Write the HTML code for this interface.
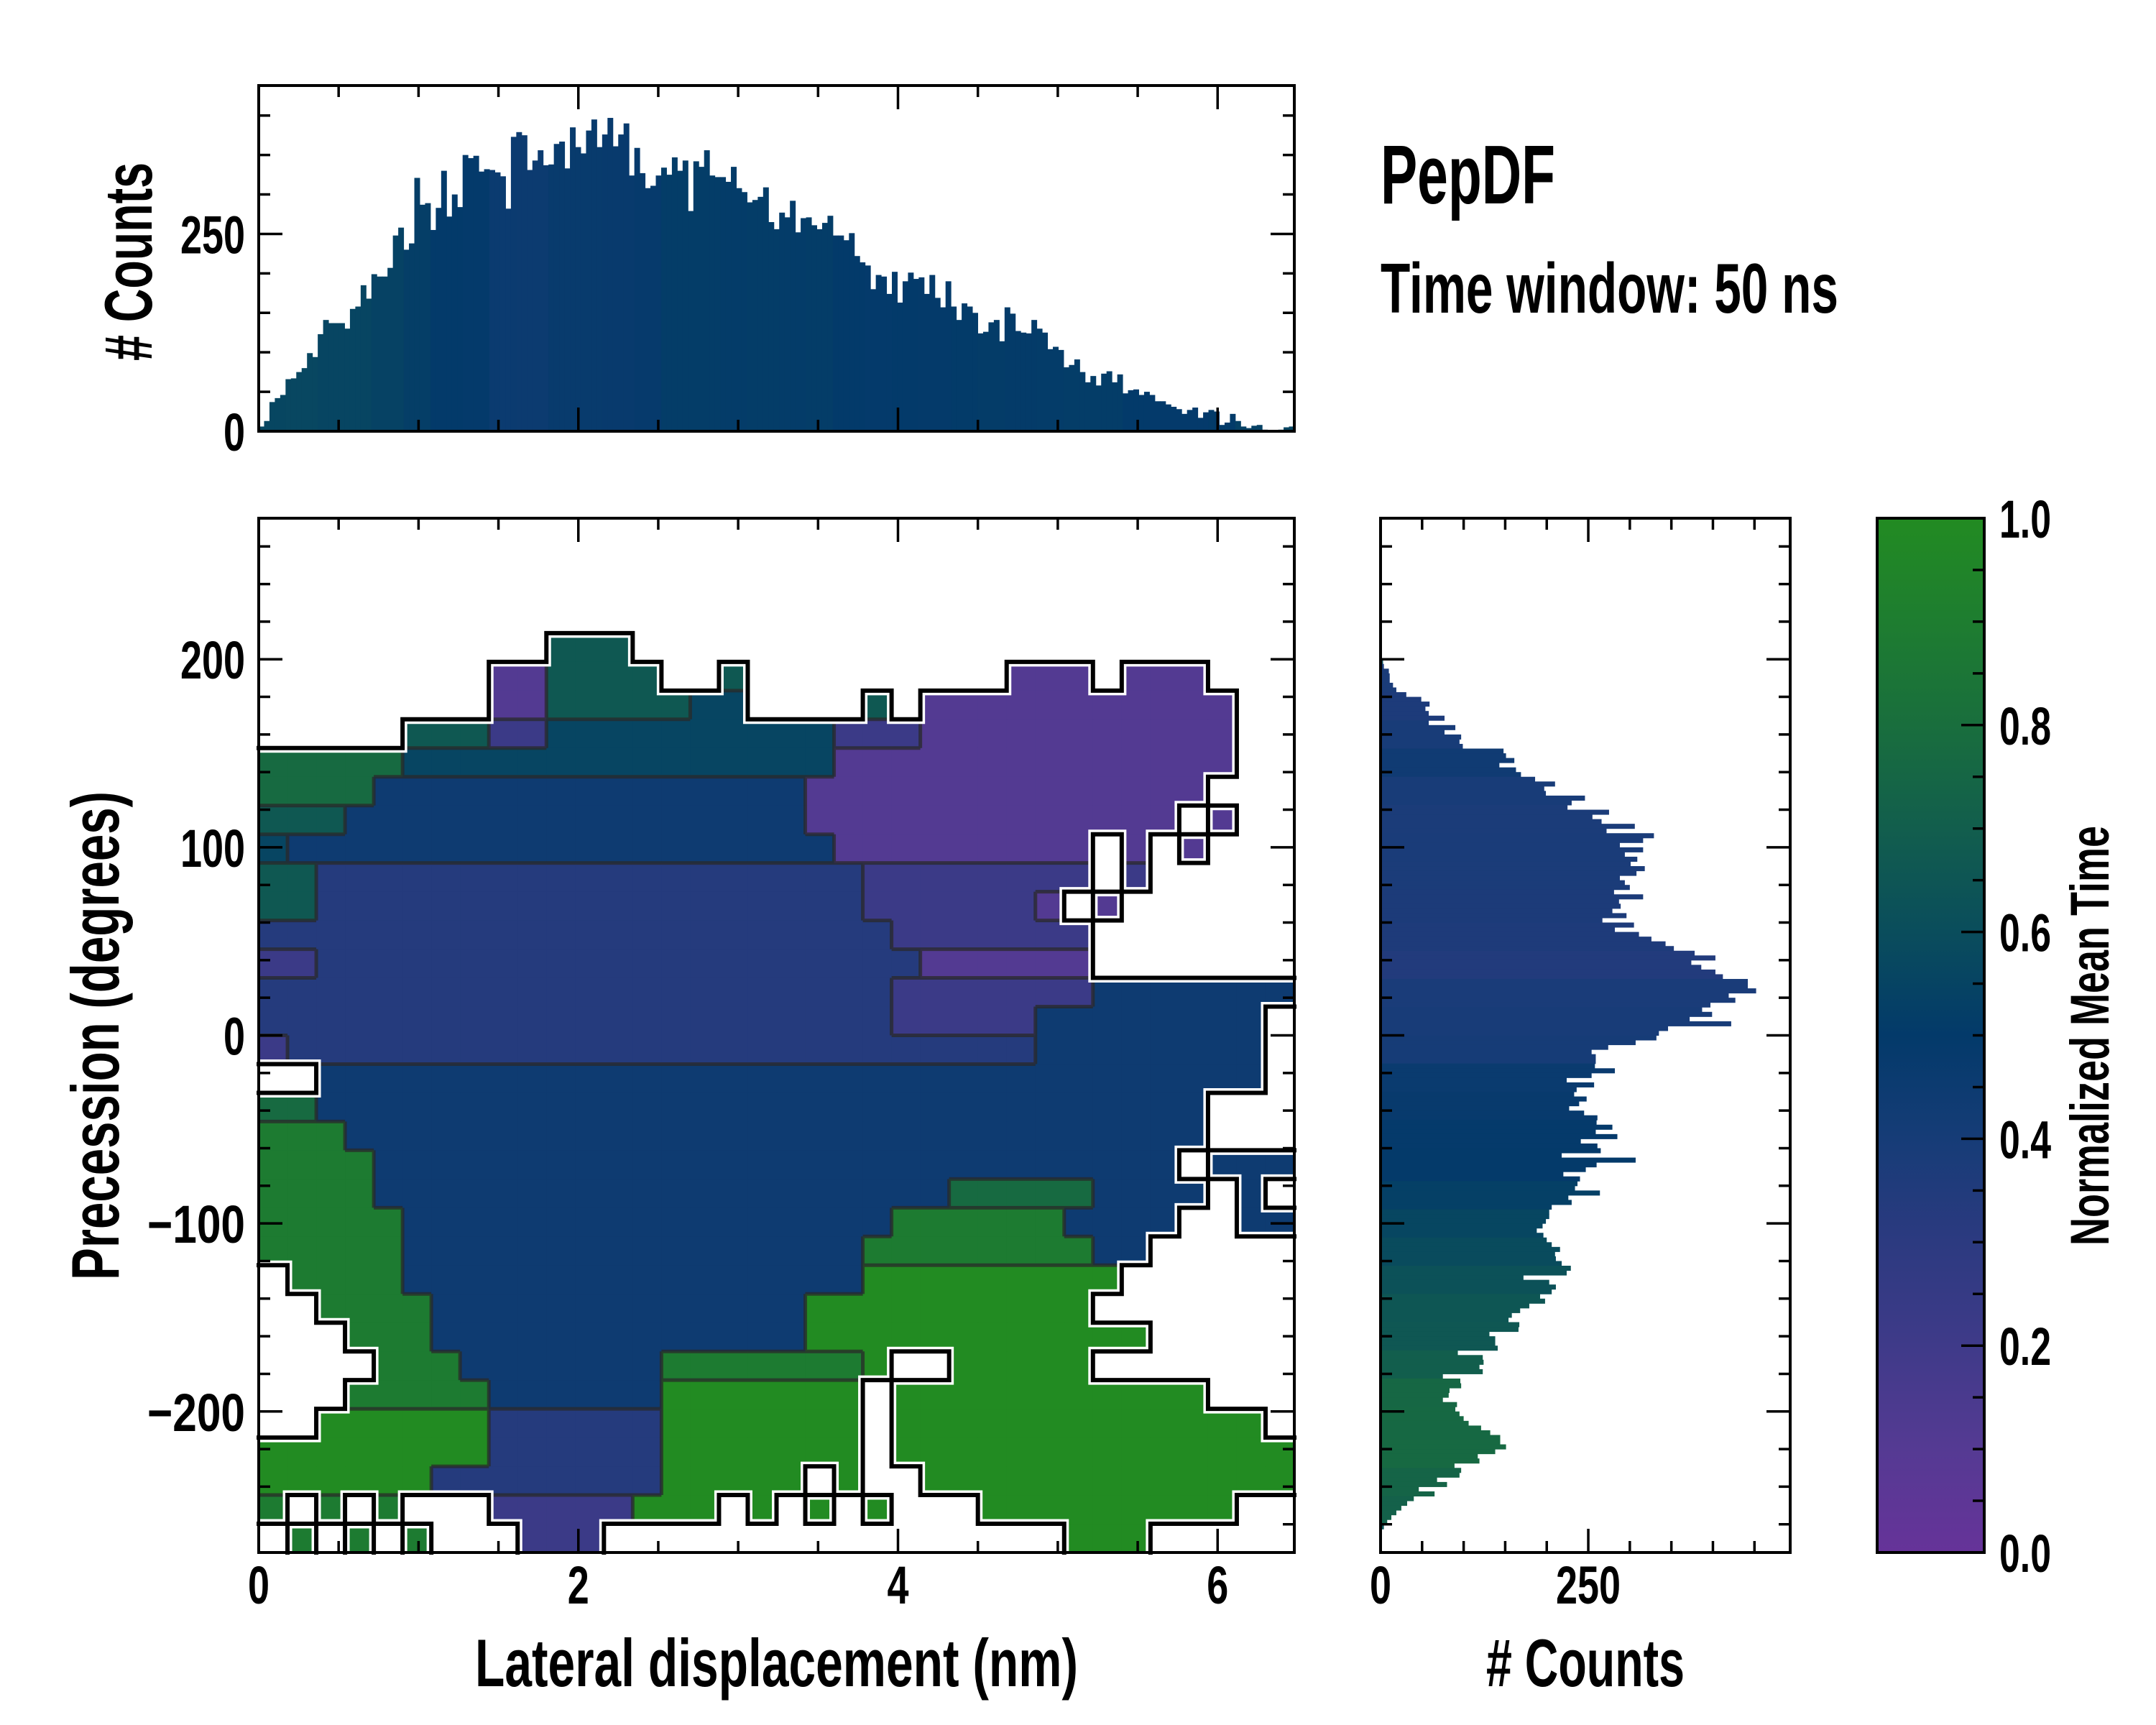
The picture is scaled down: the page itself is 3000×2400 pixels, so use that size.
<!DOCTYPE html>
<html><head><meta charset="utf-8">
<style>
html,body{margin:0;padding:0;background:#fff;}
svg{display:block;}
text{font-family:"Liberation Sans Narrow","Liberation Sans",sans-serif;font-weight:bold;fill:#000;}
</style></head>
<body>
<svg id="fig" xmlns="http://www.w3.org/2000/svg" width="3000" height="2400" viewBox="0 0 3000 2400">
<defs>
<linearGradient id="cbgrad" x1="0" y1="1" x2="0" y2="0"></linearGradient>
</defs>
<rect x="0" y="0" width="3000" height="2400" fill="#fff"/>
<g id="heat"></g>
<g id="contours"></g>
<g id="outline"></g>
<g id="tophist"></g>
<g id="righthist"></g>
<g id="cbar"></g>
<g id="axes"></g>
<g id="labels"></g>
<text x="1921" y="283" font-size="116" textLength="243" lengthAdjust="spacingAndGlyphs">PepDF</text>
<text x="1921" y="435" font-size="98" textLength="637" lengthAdjust="spacingAndGlyphs">Time window: 50 ns</text>
<text x="661" y="2346" font-size="94" textLength="839" lengthAdjust="spacingAndGlyphs">Lateral displacement (nm)</text>
<text x="2068" y="2346" font-size="94" textLength="276" lengthAdjust="spacingAndGlyphs"># Counts</text>
<text transform="translate(165,1781) rotate(-90)" x="0" y="0" font-size="94" textLength="680" lengthAdjust="spacingAndGlyphs">Precession (degrees)</text>
<text transform="translate(211,502) rotate(-90)" x="0" y="0" font-size="94" textLength="276" lengthAdjust="spacingAndGlyphs"># Counts</text>
<text transform="translate(2934,1733) rotate(-90)" x="0" y="0" font-size="76" textLength="584" lengthAdjust="spacingAndGlyphs">Normalized Mean Time</text>
</svg>
<script>
// ---------- data ----------
// heatmap grid rows (top = +275 deg), run-length tokens: <count><char> (last char is the symbol), '.' empty, digit d => normalized mean time d/9
const heatRows = [
"36.","36.","36.","36.",
"10. 36 23.",
"8. 21 46 2. 16 9. 31 1. 31 3.",
"8. 21 56 25 4. 16 1. 111 2.",
"5. 36 22 105 32 111 2.",
"57 155 141 2.",
"47 154 141 3.",
"36 164 131 1. 11 2.",
"15 194 81 11 1. 11 1. 11 3.",
"26 193 72 12 1. 12 5.",
"26 193 62 11 1. 11 6.",
"13 213 72 7.",
"22 213 61 7.",
"13 213 72 74",
"23 203 52 84 1.",
"12 263 84 1.",
"2. 334 1.",
"27 314 3.",
"38 304 3.",
"48 284 1. 34",
"48 204 57 34 14 1. 14 1.",
"58 174 68 44 2. 24",
"58 164 88 24 5.",
"1. 48 164 79 29 6.",
"2. 48 134 99 19 7.",
"3. 38 134 119 19 5.",
"4. 38 74 78 19 2. 59 7.",
"3. 58 64 79 1. 119 3.",
"2. 69 63 79 1. 139 1.",
"89 63 59 29 1. 149",
"69 83 49 19 1. 19 2. 139",
"18 1. 18 1. 18 3. 52 39 1. 19 1. 19 1. 19 3. 99 2.",
"1. 18 1. 18 1. 18 3. 32 16. 39 5."
];
// top histogram counts per bin (0 to 6.48 nm)
const topCounts = [6,13,37,42,46,66,67,75,80,99,94,123,141,137,137,137,130,155,158,185,168,199,196,196,207,248,258,230,238,321,287,289,255,283,330,272,300,284,350,346,349,329,332,331,328,323,282,373,379,375,331,343,356,337,338,364,367,333,385,360,352,381,395,360,376,397,361,376,390,324,359,327,308,
311,324,334,325,347,330,343,279,342,335,356,324,322,322,316,335,308,303,290,293,297,309,265,256,277,271,292,252,270,271,261,256,264,273,248,248,242,251,222,214,210,180,198,196,174,202,163,190,201,193,195,174,198,169,157,190,158,141,162,158,
150,124,126,138,141,114,157,149,127,125,124,141,130,125,104,107,103,81,84,91,75,62,70,58,73,76,62,72,48,52,53,46,50,46,38,38,34,31,28,22,27,30,17,24,27,25,8,11,22,13,6,4,7,8,2,1,1,2,5,6];
// right histogram counts per 2.5-degree bin, starting at +200 going down
const rightCounts = [3,4,10,11,11,15,19,31,49,59,54,58,77,58,90,77,97,95,99,148,151,161,143,163,169,186,210,197,199,246,230,225,275,255,266,306,272,329,316,288,316,294,309,301,318,308,288,294,300,281,316,287,289,279,296,267,305,282,311,326,343,353,378,403,374,386,403,412,442,442,452,419,427,397,387,399,372,422,346,335,332,307,274,254,259,259,258,282,254,224,257,236,233,248,239,227,
245,261,260,279,259,285,241,261,265,218,307,260,247,220,240,237,234,264,226,230,206,203,203,199,195,188,196,200,206,216,210,211,218,229,224,172,203,211,206,192,198,179,168,158,154,167,166,131,138,138,141,93,123,124,119,123,75,96,97,83,82,75,92,90,95,100,106,121,132,144,144,151,138,117,119,89,97,95,68,80,46,65,40,32,25,19,13,8,4,1];
const xTickLabels = [0,2,4,6];
const yTickLabels = [200,100,0,-100,-200];
const topYTickLabels = [0,250];
const rightXTickLabels = [0,250];
const cbarTickLabels = [0.0,0.2,0.4,0.6,0.8,1.0];
const cmapStops = [[0,'#663399'],[0.1,'#553a93'],[0.2,'#3f3a89'],[0.3,'#2c3a80'],[0.4,'#163c77'],[0.5,'#033a6a'],[0.6,'#0a4d5c'],[0.7,'#125e4d'],[0.8,'#196e3d'],[0.9,'#1e7d30'],[1,'#228b22']];

// ---------- layout ----------
const NS='http://www.w3.org/2000/svg';
const MX0=360,MX1=1801,MY0=721,MY1=2160;
const XMAX=6.48,YMIN=-275,YMAX=275;
const TY0=119,TY1=600,TMAX=438;
const RX0=1921,RX1=2491,RMAX=493;
const CX0=2612,CX1=2761;
const xs=v=>MX0+v/XMAX*(MX1-MX0);
const ys=d=>MY0+(YMAX-d)/(YMAX-YMIN)*(MY1-MY0);
const tys=c=>TY1-c/TMAX*(TY1-TY0);
const rxs=c=>RX0+c/RMAX*(RX1-RX0);
const cys=v=>MY1-v*(MY1-MY0);

function hex(h){return [parseInt(h.substr(1,2),16),parseInt(h.substr(3,2),16),parseInt(h.substr(5,2),16)];}
function cmap(v){
  v=Math.max(0,Math.min(1,v));
  for(let i=0;i<cmapStops.length-1;i++){
    const a=cmapStops[i],b=cmapStops[i+1];
    if(v<=b[0]){const t=(v-a[0])/(b[0]-a[0]);const ca=hex(a[1]),cb=hex(b[1]);
      return 'rgb('+ca.map((c,k)=>Math.round(c+(cb[k]-c)*t)).join(',')+')';}
  }
  return cmapStops[cmapStops.length-1][1];
}
function mk(tag,attrs,parent){const e=document.createElementNS(NS,tag);for(const k in attrs)e.setAttribute(k,attrs[k]);parent.appendChild(e);return e;}

// decode grid
const grid=heatRows.map(r=>{let s='';r.trim().split(/\s+/).forEach(t=>{const n=parseInt(t.slice(0,-1));const c=t.slice(-1);s+=c.repeat(n);});return s.padEnd(36,'.').slice(0,36);});
const NC=36,NR=grid.length;
const cw=XMAX/NC,rh=(YMAX-YMIN)/NR;

// heatmap cells
const heat=document.getElementById('heat');
for(let i=0;i<NR;i++)for(let j=0;j<NC;j++){
  const ch=grid[i][j]; if(ch==='.')continue;
  const v=parseInt(ch)/9;
  const x0=xs(j*cw),x1=xs((j+1)*cw),y0=ys(YMAX-i*rh),y1=ys(YMAX-(i+1)*rh);
  const r=mk('rect',{x:x0,y:y0,width:x1-x0+0.6,height:y1-y0+0.6,fill:cmap(v)},heat);
  
  
}
// contour-like lines between cells of differing value
const filled=(i,j)=>i>=0&&i<NR&&j>=0&&j<NC&&grid[i][j]!=='.';
let cpath='';
for(let i=0;i<NR;i++)for(let j=0;j<NC;j++){
  if(!filled(i,j))continue;
  const x0=xs(j*cw),x1=xs((j+1)*cw),y0=ys(YMAX-i*rh),y1=ys(YMAX-(i+1)*rh);
  if(filled(i+1,j)&&grid[i+1][j]!==grid[i][j])cpath+=`M${x0},${y1}H${x1}`;
  if(filled(i,j+1)&&grid[i][j+1]!==grid[i][j])cpath+=`M${x1},${y0}V${y1}`;
}
const cl=mk('path',{d:cpath,stroke:'#2a2a2a','stroke-width':5,fill:'none','stroke-opacity':0.75},document.getElementById('contours'));


// outline edges between filled and empty cells
const outl=document.getElementById('outline');
let dpath='';
for(let i=0;i<NR;i++)for(let j=0;j<NC;j++){
  if(!filled(i,j))continue;
  const x0=xs(j*cw),x1=xs((j+1)*cw),y0=ys(YMAX-i*rh),y1=ys(YMAX-(i+1)*rh);
  if(i>0&&!filled(i-1,j))dpath+=`M${x0},${y0}H${x1}`;
  if(i<NR-1&&!filled(i+1,j))dpath+=`M${x0},${y1}H${x1}`;
  if(j>0&&!filled(i,j-1))dpath+=`M${x0},${y0}V${y1}`;
  if(j<NC-1&&!filled(i,j+1))dpath+=`M${x1},${y0}V${y1}`;
}
const ow=mk('path',{d:dpath,stroke:'#fff','stroke-width':13,fill:'none','stroke-linecap':'square'},outl);


const ob=mk('path',{d:dpath,stroke:'#000','stroke-width':6,fill:'none','stroke-linecap':'square'},outl);



// column / row average for histogram colours
function colAvg(j){let s=0,n=0;for(let i=0;i<NR;i++){const c=grid[i][j];if(c!=='.'){s+=parseInt(c)/9;n++;}}return n?s/n:0.5;}
function rowAvg(i){let s=0,n=0;for(let j=0;j<NC;j++){const c=grid[i][j];if(c!=='.'){s+=parseInt(c)/9;n++;}}return n?s/n:0.5;}

// top histogram
const th=document.getElementById('tophist');
const tbw=XMAX/topCounts.length;
topCounts.forEach((c,k)=>{
  const xa=xs(k*tbw),xb=xs((k+1)*tbw);
  const col=Math.min(NC-1,Math.floor((k+0.5)*tbw/cw));
  const r=mk('rect',{x:xa,y:tys(c),width:xb-xa+0.5,height:TY1-tys(c),fill:cmap(0.5+(colAvg(col)-0.5)*0.35)},th);
  
  
});
// right histogram
const rhg=document.getElementById('righthist');
const rbw=2.5;
rightCounts.forEach((c,k)=>{
  const da=200-k*rbw,db=200-(k+1)*rbw;
  const row=Math.min(NR-1,Math.max(0,Math.floor((YMAX-(da+db)/2)/rh)));
  const r=mk('rect',{x:RX0,y:ys(da),width:rxs(c)-RX0,height:ys(db)-ys(da)+0.5,fill:cmap(0.5+(rowAvg(row)-0.5)*0.7)},rhg);
  
  
});
// colorbar
const grad=document.getElementById('cbgrad');
cmapStops.forEach(s=>mk('stop',{offset:s[0],'stop-color':s[1]},grad));
const cb=document.getElementById('cbar');
const cbr=mk('rect',{x:CX0,y:MY0,width:CX1-CX0,height:MY1-MY0,fill:'url(#cbgrad)'},cb);



// axes frames + ticks
const ax=document.getElementById('axes');
function frame(x0,y0,x1,y1,name){const r=mk('rect',{x:x0,y:y0,width:x1-x0,height:y1-y0,fill:'none',stroke:'#000','stroke-width':4},ax);
  
  }
let tp='';
function xt(x,y0,y1,len){tp+=`M${x},${y1}v${-len}M${x},${y0}v${len}`;}
function yt(y,x0,x1,len){tp+=`M${x0},${y}h${len}M${x1},${y}h${-len}`;}
for(let v=0;v<=6.01;v+=0.5){const maj=Math.abs(v/2-Math.round(v/2))<1e-6;xt(xs(v),MY0,MY1,maj?33:16);xt(xs(v),TY0,TY1,maj?33:16);}
for(let d=-260;d<=260;d+=20){const maj=d%100===0;yt(ys(d),MX0,MX1,maj?33:16);yt(ys(d),RX0,RX1,maj?33:16);}
for(let c=0;c<=400;c+=50){yt(tys(c),MX0,MX1,(c===0||c===250)?33:16);}
for(let c=0;c<=450;c+=50){xt(rxs(c),MY0,MY1,(c===0||c===250)?33:16);}
for(let k=0;k<=20;k++){const v=k*0.05;const maj=k%4===0;tp+=`M${CX1},${cys(v)}h${maj?-32:-16}`;}
const tk=mk('path',{d:tp,stroke:'#000','stroke-width':3.5,fill:'none'},ax);


frame(MX0,MY0,MX1,MY1,'main-axes-frame');
frame(MX0,TY0,MX1,TY1,'top-hist-frame');
frame(RX0,MY0,RX1,MY1,'right-hist-frame');
frame(CX0,MY0,CX1,MY1,'colorbar-frame');

// tick labels (condensed via textLength)
const lb=document.getElementById('labels');
function tw(s){let w=0;for(const ch of s){w+=ch==='\u2212'?46:(ch==='.'?12:30);}return w;}
function lab(txt,x,y,anchor,name){const t=mk('text',{x:x,y:y,'font-size':74,'text-anchor':anchor,textLength:tw(txt),lengthAdjust:'spacingAndGlyphs'},lb);t.textContent=txt;
  
  }
const fmt=v=>v<0?'\u2212'+Math.abs(v):String(v);
xTickLabels.forEach(v=>lab(fmt(v),xs(v),2231,'middle','x-tick-label'));
yTickLabels.forEach(v=>lab(fmt(v),341,ys(v)+27,'end','y-tick-label'));
topYTickLabels.forEach(v=>lab(fmt(v),341,tys(v)+27,'end','top-hist-y-tick-label'));
rightXTickLabels.forEach(v=>lab(fmt(v),rxs(v),2231,'middle','right-hist-x-tick-label'));
cbarTickLabels.forEach(v=>lab(v.toFixed(1),2782,cys(v)+27,'start','colorbar-tick-label'));
</script>
</body></html>
